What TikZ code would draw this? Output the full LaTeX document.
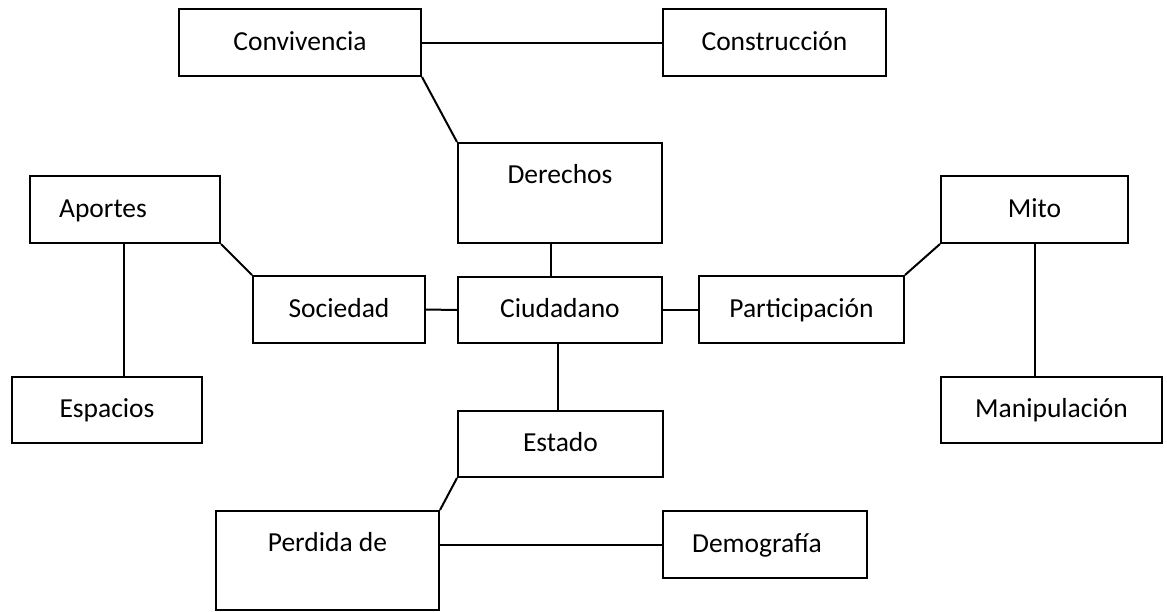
\documentclass[tikz,border=0pt]{standalone}
\usepackage{fontspec}
\setmainfont{Carlito}
\begin{document}
\begin{tikzpicture}[x=1pt,y=-1pt,
  lbl/.style={inner sep=0pt,text height=20pt,text depth=4.5pt,font=\fontsize{27.5}{33}\selectfont},
  box/.style={lbl,draw=black,line width=2pt},
  conn/.style={draw=black,line width=2pt}]
\useasboundingbox (0,0) rectangle (1167,611);
\node[box,minimum width=242,minimum height=67] (conv) at (300,42.5) {Convivencia};
\node[box,minimum width=223,minimum height=67] (cons) at (774.5,42.5) {Construcción};
\node[box,minimum width=204,minimum height=100] (der) at (560,193) {};
\node[lbl] (dert) at (560,176) {Derechos};
\node[box,minimum width=190,minimum height=67] (aport) at (125,209.5) {};
\node[lbl] (aportt) at (103,209.5) {Aportes};
\node[box,minimum width=172,minimum height=67] (soc) at (339,309.5) {Sociedad};
\node[box,minimum width=204,minimum height=66] (ciu) at (560,310) {Ciudadano};
\node[box,minimum width=205,minimum height=67] (part) at (801.5,309.5) {Participación};
\node[box,minimum width=187,minimum height=67] (mito) at (1034.5,209.5) {Mito};
\node[box,minimum width=190,minimum height=66] (esp) at (107,410) {Espacios};
\node[box,minimum width=221,minimum height=66] (manip) at (1051.5,410) {Manipulación};
\node[box,minimum width=205,minimum height=66] (estado) at (560.5,444) {Estado};
\node[box,minimum width=223,minimum height=99] (perd) at (327.5,560.5) {};
\node[lbl] (perdt) at (327.5,544) {Perdida de};
\node[box,minimum width=204,minimum height=67] (demo) at (765,544.5) {};
\node[lbl] (demot) at (757,544.5) {Demografía};

\draw[conn] (conv.east) -- (cons.west);
\draw[conn] (conv.south east) -- (der.north west);
\draw[conn] ([xshift=-9pt]der.south) -- ([xshift=-9pt]ciu.north);
\draw[conn] (aport.south east) -- (soc.north west);
\draw[conn] ([xshift=-1pt]aport.south) -- ([xshift=-1pt]aport.south |- esp.north);
\draw[conn] (soc.east) -- (ciu.west);
\draw[conn] (ciu.east) -- (ciu.east -| part.west);
\draw[conn] (part.north east) -- (mito.south west);
\draw[conn] (mito.south) -- (mito.south |- manip.north);
\draw[conn] ([xshift=-2pt]ciu.south) -- ([xshift=-2pt]ciu.south |- estado.north);
\draw[conn] (estado.south west) -- (perd.north east);
\draw[conn] (perd.east |- demo.west) -- (demo.west);
\end{tikzpicture}
\end{document}
